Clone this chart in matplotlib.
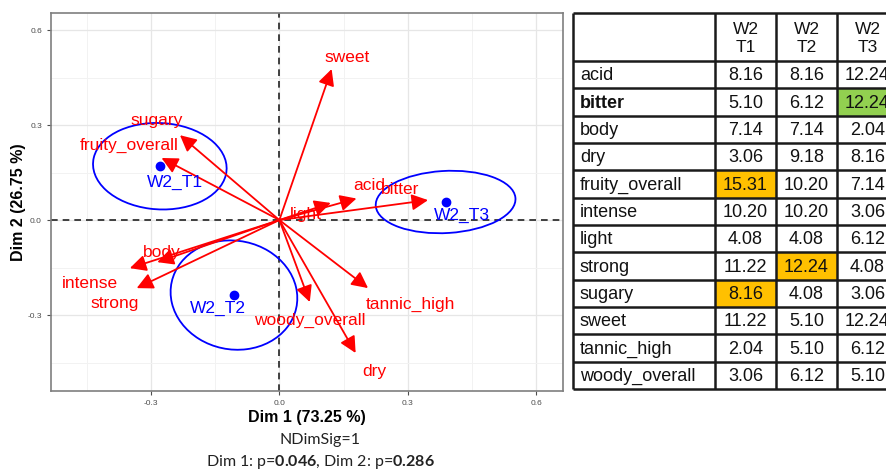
import numpy as np
import matplotlib
matplotlib.use("Agg")
import matplotlib.pyplot as plt
from matplotlib.patches import Ellipse, Rectangle

# Variables (arrows) of the biplot
var_names = ["sweet", "sugary", "fruity_overall", "light", "acid", "bitter",
             "body", "intense", "strong", "woody_overall", "tannic_high", "dry"]
var_x = [0.122, -0.232, -0.275, 0.120, 0.180, 0.347,
         -0.285, -0.349, -0.333, 0.071, 0.207, 0.178]
var_y = [0.477, 0.268, 0.196, 0.054, 0.068, 0.063,
         -0.133, -0.152, -0.215, -0.259, -0.215, -0.420]

# Products (points) and their confidence ellipses
prod_names = ["W2_T1", "W2_T2", "W2_T3"]
prod_x = [-0.279, -0.106, 0.388]
prod_y = [0.170, -0.237, 0.057]
ell_w = [0.313, 0.294, 0.327]
ell_h = [0.272, 0.347, 0.196]
ell_angle = [-10, 10, 5]

# Table of contributions
row_names = ["acid", "bitter", "body", "dry", "fruity_overall", "intense",
             "light", "strong", "sugary", "sweet", "tannic_high", "woody_overall"]
col_names = ["W2\nT1", "W2\nT2", "W2\nT3"]
t1 = [8.16, 5.10, 7.14, 3.06, 15.31, 10.20, 4.08, 11.22, 8.16, 11.22, 2.04, 3.06]
t2 = [8.16, 6.12, 7.14, 9.18, 10.20, 10.20, 4.08, 12.24, 4.08, 5.10, 5.10, 6.12]
t3 = [12.24, 12.24, 2.04, 8.16, 7.14, 3.06, 6.12, 4.08, 3.06, 12.24, 6.12, 5.10]
# highlighted cells: (row, column, colour)
highlights = [(4, 0, "#FFC000"), (8, 0, "#FFC000"), (7, 1, "#FFC000"), (1, 2, "#92D050")]
bold_rows = ["bitter"]

# label offsets relative to arrow tips / points (data units)
var_lab_off = {"sweet": (0.036, 0.038), "sugary": (-0.054, 0.048), "fruity_overall": (-0.076, 0.041),
               "light": (-0.058, -0.038), "acid": (0.029, 0.042), "bitter": (-0.066, 0.032),
               "body": (0.011, 0.029), "intense": (-0.094, -0.050), "strong": (-0.051, -0.050),
               "woody_overall": (0.0, -0.057), "tannic_high": (0.098, -0.050), "dry": (0.043, -0.057)}
prod_lab_off = [(0.035, -0.050), (-0.038, -0.041), (0.038, -0.041)]

W, H = 886, 475
fig = plt.figure(figsize=(W / 100, H / 100), dpi=100)
plt.rcParams['font.family'] = ['Liberation Sans', 'DejaVu Sans']
plt.rcParams['mathtext.fontset'] = 'custom'
plt.rcParams['mathtext.rm'] = 'Lato'
plt.rcParams['mathtext.bf'] = 'Lato:bold'

# ---- biplot ----
ax = fig.add_axes([51 / W, 1 - 391 / H, 512 / W, 378 / H])
ax.set_xlim(-0.533, 0.662)
ax.set_ylim(-0.54, 0.654)
ax.set_xticks([-0.3, 0.0, 0.3, 0.6])
ax.set_yticks([-0.3, 0.0, 0.3, 0.6])
ax.set_xticks([-0.45, -0.15, 0.15, 0.45], minor=True)
ax.set_yticks([-0.45, -0.15, 0.15, 0.45], minor=True)
ax.set_xticklabels(["-0.3", "0.0", "0.3", "0.6"])
ax.set_yticklabels(["-0.3", "0.0", "0.3", "0.6"])
ax.grid(which="major", color="#E6E6E6", lw=0.9)
ax.grid(which="minor", color="#F2F2F2", lw=0.7)
ax.set_axisbelow(True)
ax.tick_params(which="major", labelsize=6, colors="#4D4D4D", length=3, width=0.8)
ax.tick_params(which="minor", length=0)
for s in ax.spines.values():
    s.set_color("#7F7F7F")
    s.set_linewidth(1.2)
ax.axhline(0, color="#222222", ls=(0, (4, 3)), lw=1.2, zorder=1)
ax.axvline(0, color="#222222", ls=(0, (4, 3)), lw=1.2, zorder=1)

for name, x, y in zip(var_names, var_x, var_y):
    ax.annotate("", xy=(x, y), xytext=(0, 0),
                arrowprops=dict(arrowstyle="-|>,head_length=0.7,head_width=0.35", color="red",
                                lw=1.3, shrinkA=0, shrinkB=0, mutation_scale=14), zorder=3)
    dx, dy = var_lab_off[name]
    ax.text(x + dx, y + dy, name, color="red", fontsize=12.5, ha="center", va="center", zorder=4)

for i, name in enumerate(prod_names):
    ax.add_patch(Ellipse((prod_x[i], prod_y[i]), ell_w[i], ell_h[i], angle=ell_angle[i],
                         fill=False, ec="blue", lw=1.3, zorder=2))
    ax.plot(prod_x[i], prod_y[i], "o", color="blue", ms=6, zorder=5)
    dx, dy = prod_lab_off[i]
    ax.text(prod_x[i] + dx, prod_y[i] + dy, name, color="blue", fontsize=12.5,
            ha="center", va="center", zorder=4)

ax.set_xlabel("Dim 1 (73.25 %)", fontsize=11.5, fontweight="bold", labelpad=2)
ax.set_ylabel("Dim 2 (26.75 %)", fontsize=11.5, fontweight="bold", labelpad=1)

fig.text(320 / W, 1 - 440 / H, "NDimSig=1", family="Lato", fontsize=11.5,
         ha="center", va="center", color="#222222")
fig.text(320 / W, 1 - 462 / H,
         r"Dim 1: p=$\mathbf{0.046}$, Dim 2: p=$\mathbf{0.286}$", family="Lato", fontsize=11.5,
         ha="center", va="center", color="#222222")

# ---- table ----
tab = fig.add_axes([0, 0, 1, 1])
tab.set_xlim(0, W)
tab.set_ylim(H, 0)
tab.axis("off")
tab.patch.set_alpha(0)

col_edges = [573, 715, 776, 837, 898]
top, head_bot, bottom = 13, 61, 389
row_h = (bottom - head_bot) / len(row_names)
row_edges = [head_bot + i * row_h for i in range(len(row_names) + 1)]

tab.add_patch(Rectangle((col_edges[0], top), col_edges[-1] - col_edges[0], bottom - top,
                        fc="white", ec="none"))
for r, c, colr in highlights:
    tab.add_patch(Rectangle((col_edges[c + 1], row_edges[r]), col_edges[c + 2] - col_edges[c + 1],
                            row_h, fc=colr, ec="none"))

for y in [top, head_bot] + row_edges[1:]:
    tab.plot([col_edges[0], col_edges[-1]], [y, y], color="#1A1A1A", lw=1.8,
             solid_capstyle="butt")
for x in col_edges:
    tab.plot([x, x], [top, bottom], color="#1A1A1A", lw=1.8, solid_capstyle="butt")

for j, cn in enumerate(col_names):
    tab.text((col_edges[j + 1] + col_edges[j + 2]) / 2, (top + head_bot) / 2 + 1, cn,
             fontsize=12.5, ha="center", va="center", linespacing=1.25, color="#111111")
cols = [t1, t2, t3]
for i, rn in enumerate(row_names):
    yc = row_edges[i] + row_h / 2 + 1
    tab.text(580, yc, rn, fontsize=13, ha="left", va="center", color="#111111",
             fontweight="bold" if rn in bold_rows else "normal")
    for j in range(3):
        tab.text((col_edges[j + 1] + col_edges[j + 2]) / 2, yc, "%.2f" % cols[j][i],
                 fontsize=13, ha="center", va="center", color="#111111")

fig.savefig("out.png", dpi=100)
